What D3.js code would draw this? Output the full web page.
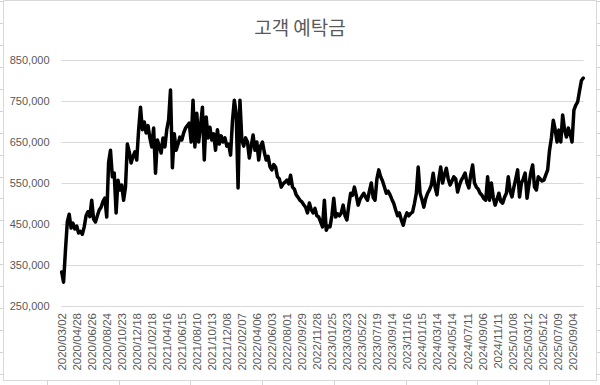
<!DOCTYPE html>
<html>
<head>
<meta charset="UTF-8">
<title>고객 예탁금</title>
<style type="text/css">
  html, body { margin: 0; padding: 0; background: #fff; }
  svg { display: block; }
  .axis text { font-family: "Liberation Sans", Arial, sans-serif; fill: #595959; }
  .axis .domain { display: none; }
</style>
</head>
<body>
<svg class="chart"></svg>
<script src="https://cdn.jsdelivr.net/npm/d3@7/dist/d3.min.js"></script>
<script type="text/javascript">
  // 고객 예탁금, one reading every 5 trading days (unit: 1,000)
  var sampleStep = 5;
  var unit = 1000;
  var deposits = [
    333, 308, 385, 455, 474, 440, 452, 438, 445, 428,
    432, 425, 443, 470, 480, 468, 508, 462, 455, 470,
    484, 491, 505, 513, 467, 600, 630, 565, 574, 477,
    557, 533, 545, 508, 540, 645, 626, 599, 615, 626,
    606, 679, 735, 680, 699, 672, 690, 660, 638, 684,
    574, 655, 640, 623, 660, 638, 680, 704, 777, 587,
    670, 630, 645, 662, 655, 672, 684, 690, 696, 650,
    752, 638, 720, 650, 690, 735, 606, 711, 660, 686,
    655, 670, 630, 680, 645, 665, 650, 660, 640, 645,
    618, 700, 752, 720, 538, 752, 655, 640, 660, 650,
    611, 640, 667, 630, 650, 606, 640, 650, 625, 606,
    615, 590, 582, 595, 589, 565, 560, 540, 548, 552,
    557, 548, 569, 540, 535, 521, 515, 508, 504, 497,
    491, 477, 501, 485, 477, 488, 470, 467, 455, 443,
    508, 435, 445, 443, 470, 513, 467, 475, 470, 477,
    496, 470, 460, 495, 525, 520, 540, 520, 496, 510,
    518, 525, 515, 508, 530, 550, 515, 508, 560, 582,
    565, 555, 540, 525, 530, 521, 510, 500, 484, 470,
    477, 460, 447, 465, 477, 470, 476, 479, 500, 525,
    589, 525, 510, 491, 512, 525, 533, 545, 574, 540,
    521, 560, 589, 550, 570, 586, 560, 545, 555, 565,
    560, 528, 545, 557, 565, 574, 550, 538, 570, 594,
    550, 540, 535, 525, 520, 512, 508, 565, 508, 550,
    515, 496, 510, 525, 505, 501, 515, 525, 565, 530,
    516, 540, 560, 582, 516, 550, 560, 574, 513, 545,
    575, 594, 540, 533, 565, 560, 555, 557, 570, 582,
    630, 660, 703, 680, 650, 679, 650, 716, 680, 662,
    684, 670, 650, 728, 740, 748, 775, 800, 806
  ];

  // category labels, one every 40 trading days
  var labelEvery = 40;
  var dateLabels = [
    "2020/03/02", "2020/04/28", "2020/06/26", "2020/08/24", "2020/10/23", "2020/12/18",
    "2021/02/18", "2021/04/16", "2021/06/15", "2021/08/10", "2021/10/13", "2021/12/08",
    "2022/02/07", "2022/04/06", "2022/06/03", "2022/08/01", "2022/09/29", "2022/11/28",
    "2023/01/25", "2023/03/23", "2023/05/22", "2023/07/19", "2023/09/14", "2023/11/16",
    "2024/01/15", "2024/03/14", "2024/05/14", "2024/07/11", "2024/09/06", "2024/11/11",
    "2025/01/08", "2025/03/12", "2025/05/12", "2025/07/09", "2025/09/04"
  ];

  var yTicks = [250000, 350000, 450000, 550000, 650000, 750000, 850000];

  var width = 600, height = 385;
  var svg = d3.select(".chart").attr("width", width).attr("height", height);

  // spreadsheet cells behind the chart object
  var g_cells = svg.append("g").attr("stroke", "#d4d4d4").attr("stroke-width", 1);
  d3.range(-1, 9).forEach(function(n) {
    var cx = Math.round(47 + 71.7 * n) + 0.5;
    g_cells.append("line").attr("x1", cx).attr("x2", cx).attr("y1", 0).attr("y2", height);
  });
  d3.range(0, 18).forEach(function(n) {
    var cy = Math.round(1.3 + 21.9 * n) + 0.5;
    g_cells.append("line").attr("x1", 0).attr("x2", width).attr("y1", cy).attr("y2", cy);
  });

  svg.append("rect")
    .attr("x", 3.5).attr("y", 0.5)
    .attr("width", 593).attr("height", 380)
    .attr("fill", "#fff")
    .attr("stroke", "#d9d9d9");

  svg.append("text")
    .attr("x", 300).attr("y", 35)
    .attr("text-anchor", "middle")
    .attr("font-family", "'Noto Sans CJK KR', sans-serif")
    .attr("font-size", 19)
    .attr("fill", "#595959")
    .text("고객 예탁금");

  var nDays = (deposits.length - 1) * sampleStep + 1;
  var plotLeft = 61.5, plotRight = 583.5;

  var x = d3.scaleLinear().domain([-0.5, nDays - 0.5]).range([plotLeft, plotRight]);
  var y = d3.scaleLinear().domain([250000, 850000]).range([306, 60]);

  // y axis + gridlines
  var g_y = svg.append("g").classed("axis", true)
    .attr("transform", "translate(" + plotLeft + ",0)")
    .call(d3.axisLeft(y).tickValues(yTicks).tickFormat(d3.format(",")).tickSize(0).tickPadding(12));
  g_y.selectAll("text").attr("font-size", 11);
  svg.append("g").selectAll("line").data(yTicks).enter().append("line")
    .attr("x1", plotLeft).attr("x2", plotRight)
    .attr("y1", function(d) { return Math.round(y(d)) + 0.5; })
    .attr("y2", function(d) { return Math.round(y(d)) + 0.5; })
    .attr("stroke", "#d9d9d9");

  // x axis, rotated date labels
  var labelIdx = dateLabels.map(function(d, i) { return i * labelEvery; });
  var g_x = svg.append("g").classed("axis", true)
    .attr("transform", "translate(0,306)")
    .call(d3.axisBottom(x).tickValues(labelIdx)
      .tickFormat(function(d, i) { return dateLabels[i]; }).tickSize(0));
  g_x.selectAll(".tick line").remove();
  g_x.selectAll("text")
    .attr("font-size", 11.5)
    .attr("text-anchor", "end")
    .attr("dy", "0.35em")
    .attr("transform", "translate(0,7) rotate(-90)")
    .attr("x", 0).attr("y", 0);

  var line = d3.line()
    .x(function(d, i) { return x(i * sampleStep); })
    .y(function(d) { return y(d * unit); });

  svg.append("path")
    .datum(deposits)
    .attr("d", line)
    .attr("fill", "none")
    .attr("stroke", "#000")
    .attr("stroke-width", 3.5)
    .attr("stroke-linejoin", "round")
    .attr("stroke-linecap", "round");
</script>
</body>
</html>
